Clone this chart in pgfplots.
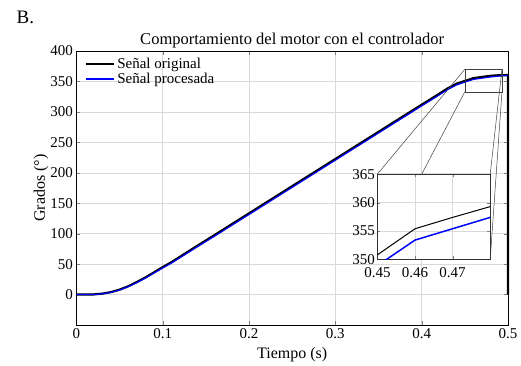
\documentclass[border=0pt]{standalone}
\usepackage{pgfplots}
\pgfplotsset{compat=1.18}
\usepackage{pgfplotstable}
\usepackage{fontspec}
\setmainfont{Liberation Serif}

\pgfplotstableread{
t y
0.00 0
0.01 0
0.02 0.2
0.03 1.5
0.04 4
0.05 8
0.06 13.5
0.07 20.5
0.08 28
0.09 36.5
0.10 45
0.11 53
0.12 62
0.13 71
0.14 80
0.15 88.7
0.16 97.6
0.17 106.5
0.18 115.5
0.19 124.4
0.20 133.3
0.21 142.2
0.22 151.2
0.23 160.1
0.24 169
0.25 178
0.26 186.9
0.27 195.8
0.28 204.7
0.29 213.7
0.30 222.6
0.31 231.5
0.32 240.4
0.33 249.4
0.34 258.3
0.35 267.2
0.36 276.1
0.37 285.1
0.38 294
0.39 302.9
0.40 311.8
0.41 320.5
0.42 329.5
0.43 338.5
0.44 346
0.45 350.8
0.46 355.4
0.47 357.4
0.48 359.3
0.49 360.2
0.50 360.5
0.50 0
}\orig

\pgfplotstableread{
t y
0.00 0
0.01 0
0.02 0.1
0.03 1.2
0.04 3.6
0.05 7.4
0.06 12.8
0.07 19.6
0.08 27
0.09 35.3
0.10 43.6
0.11 51.5
0.12 60.4
0.13 69.3
0.14 78.3
0.15 87
0.16 95.8
0.17 104.7
0.18 113.6
0.19 122.5
0.20 131.4
0.21 140.3
0.22 149.3
0.23 158.2
0.24 167.1
0.25 176
0.26 185
0.27 193.9
0.28 202.8
0.29 211.7
0.30 220.6
0.31 229.6
0.32 238.5
0.33 247.4
0.34 256.3
0.35 265.2
0.36 274.2
0.37 283.1
0.38 292
0.39 300.9
0.40 309.8
0.41 318.6
0.42 327.5
0.43 336.5
0.44 344
0.45 348.9
0.46 353.4
0.47 355.4
0.48 357.4
0.49 358.8
0.50 359.8
}\proc

\begin{document}
\begin{tikzpicture}[font=\fontsize{15}{18}\selectfont]
\useasboundingbox (-76.3pt,-41pt) rectangle (444.7pt,325pt);
\node[font=\fontsize{19}{22}\selectfont, anchor=center] at (-51pt,308pt) {B.};
\begin{axis}[
  at={(0pt,0pt)}, anchor=south west,
  scale only axis, width=431.7pt, height=274pt,
  xmin=0, xmax=0.5, ymin=-50, ymax=400,
  xtick={0,0.1,0.2,0.3,0.4,0.5},
  ytick={0,50,100,150,200,250,300,350,400},
  xticklabel style={/pgf/number format/fixed, /pgf/number format/precision=2},
  /pgf/number format/assume math mode=true,
  tick label style={font=\fontsize{15}{18}\selectfont},
  grid=major,
  major grid style={gray!30, line width=0.5pt},
  tick align=inside, major tick length=4pt,
  axis line style={black, line width=0.6pt},
  title={Comportamiento del motor con el controlador},
  title style={font=\fontsize{16.5}{19}\selectfont, yshift=-7pt},
  xlabel={Tiempo (s)}, ylabel={Grados (°)},
  label style={font=\fontsize{16}{19}\selectfont},
  xlabel shift=2pt, ylabel shift=-5pt,
  clip=false,
  legend style={at={(0.018,0.985)}, anchor=north west, draw=none, fill=none,
    font=\fontsize{15}{18}\selectfont, inner sep=1pt, row sep=-1pt},
  legend cell align=left,
  legend image code/.code={\draw[#1, line width=2pt] (0pt,0pt) -- (28pt,0pt);},
]
\addplot[black, line width=2.2pt, line join=round] table[x=t,y=y]{\orig};
\addlegendentry{Señal original}
\addplot[blue, line width=1.2pt, line join=round] table[x=t,y=y]{\proc};
\addlegendentry{Señal procesada}
\draw[black!75, line width=0.5pt] (axis cs:0.45,333) rectangle (axis cs:0.493,370);
\draw[black!75, line width=0.5pt] (axis cs:0.45,370) -- (axis cs:0.3488,198);
\draw[black!75, line width=0.5pt] (axis cs:0.45,333) -- (axis cs:0.4002,198);
\draw[black!75, line width=0.5pt] (axis cs:0.493,370) -- (axis cs:0.4794,198);
\draw[black!75, line width=0.5pt] (axis cs:0.493,333) -- (axis cs:0.4794,57.8);
\coordinate (insSW) at (axis cs:0.3488,57.8);
\end{axis}
\begin{axis}[
  at={(insSW)}, anchor=south west,
  scale only axis, width=112.7pt, height=85pt,
  xmin=0.45, xmax=0.48, ymin=350, ymax=365,
  xtick={0.45,0.46,0.47}, ytick={350,355,360,365},
  xticklabel style={/pgf/number format/fixed, /pgf/number format/precision=2, yshift=-5pt},
  yticklabel style={xshift=1pt},
  /pgf/number format/assume math mode=true,
  tick label style={font=\fontsize{15}{18}\selectfont},
  grid=major,
  major grid style={gray!30, line width=0.5pt},
  tick align=inside, major tick length=3pt,
  axis line style={black!80, line width=0.6pt},
  axis background/.style={fill=white},
]
\addplot[black, line width=1pt] table[x=t,y=y]{\orig};
\addplot[blue, line width=1.5pt] table[x=t,y=y]{\proc};
\end{axis}
\end{tikzpicture}
\end{document}
